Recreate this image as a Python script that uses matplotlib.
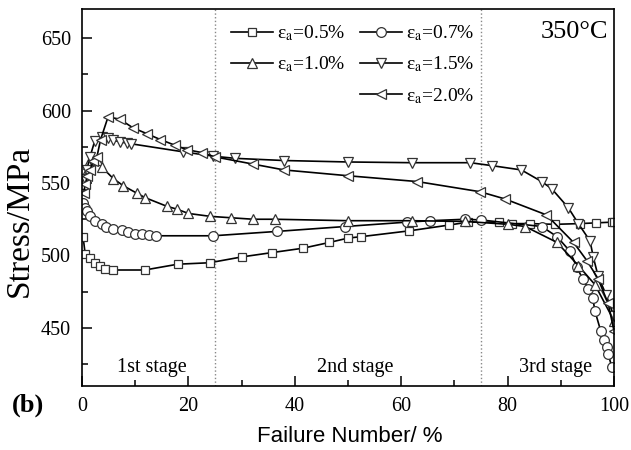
import matplotlib
matplotlib.use("Agg")
import matplotlib.pyplot as plt
from matplotlib.lines import Line2D
from matplotlib.ticker import MultipleLocator

plt.rcParams['font.family'] = ['Liberation Serif', 'DejaVu Serif']
plt.rcParams['mathtext.fontset'] = 'stix'

# ---- data (Failure Number %, Stress MPa) ----
x05 = [0.2, 0.6, 1.5, 2.4, 3.4, 4.3, 5.9, 11.8, 18.0, 24.0, 30.0, 35.7, 41.5, 46.5, 50.0, 52.5,
       61.5, 69.0, 72.5, 78.3, 80.8, 84.2, 88.9, 93.6, 96.6, 99.6, 100.0]
y05 = [513, 501, 498, 495, 493, 491, 490, 490, 494, 495, 499, 502, 505, 509, 512, 513,
       517, 521, 523, 523, 522, 522, 521.5, 522, 522.5, 523, 523]

x07 = [0.2, 0.6, 0.9, 1.5, 2.4, 3.7, 4.6, 5.9, 7.5, 8.7, 10.0, 11.2, 12.5, 13.9, 24.7, 36.6,
       49.5, 61.0, 65.5, 72.0, 75.0, 86.4, 89.3, 91.7, 93.0, 94.1, 95.2, 96.0, 96.4, 97.5,
       98.1, 98.6, 98.9, 99.6]
y07 = [536, 533, 531, 527, 524, 521.5, 520, 518.5, 517.3, 516, 515, 514.5, 514, 513.6, 513.6, 516.6,
       520, 523, 524, 525, 524.5, 520, 513, 503, 492, 484, 477, 471, 462, 448,
       442, 437, 432, 423]

x10 = [0.25, 0.8, 1.2, 2.8, 3.7, 5.9, 7.8, 10.3, 11.8, 15.9, 17.8, 20.0, 24.1, 28.1, 32.2, 36.3,
       50.0, 62.0, 72.0, 80.1, 83.3, 89.3, 93.3, 96.4, 100.0]
y10 = [549, 557, 563, 566, 561, 553, 548, 543, 540, 534, 532, 529, 527, 526, 525, 525,
       524, 524, 523.5, 521.5, 520, 509, 493, 480, 455]

x15 = [0.6, 0.9, 1.5, 2.4, 3.7, 4.9, 5.9, 7.1, 8.4, 9.3, 19.0, 24.7, 28.8, 38.0, 50.0, 62.0, 73.0,
       77.0, 82.6, 86.4, 88.3, 91.4, 93.3, 95.5, 96.1, 97.0, 98.5, 100.0]
y15 = [553, 559, 568, 579, 582, 581, 579.5, 578.5, 577.5, 577, 571.5, 568.5, 567, 565.5, 564.5, 564, 564,
       562, 559, 551, 546, 533, 522, 510, 499, 486, 473, 458]

x20 = [0.3, 0.6, 1.0, 1.5, 2.1, 2.8, 3.5, 4.9, 7.1, 9.6, 12.2, 14.7, 17.5, 19.7, 22.5, 25.0, 32.2,
       38.0, 50.0, 63.0, 74.8, 79.5, 87.3, 92.4, 94.9, 97.0, 98.9, 100.0]
y20 = [543, 549, 555, 559, 565, 568, 580, 595.6, 594, 588, 584, 580, 576, 573, 571, 568, 563,
       559, 555, 551, 544, 539, 528, 509, 496.5, 484, 467, 448]

stage_lines = [25, 75]
stage_labels = ["1st stage", "2nd stage", "3rd stage"]
stage_x = [13.2, 51.3, 89.0]

labels = ['ε$_{\\rm a}$=0.5%', 'ε$_{\\rm a}$=0.7%', 'ε$_{\\rm a}$=1.0%',
          'ε$_{\\rm a}$=1.5%', 'ε$_{\\rm a}$=2.0%']

fig = plt.figure(figsize=(6.31, 4.5), dpi=100)
ax = fig.add_axes([82/631, 1-386/450, (614-82)/631, (386-9)/450])

ec = '#333333'
common = dict(color='k', lw=1.2, mfc='white', mec=ec, mew=0.9)
h05, = ax.plot(x05, y05, marker='s', ms=6, label=labels[0], **common)
h07, = ax.plot(x07, y07, marker='o', ms=7, label=labels[1], **common)
h10, = ax.plot(x10, y10, marker='^', ms=7.5, label=labels[2], **common)
h15, = ax.plot(x15, y15, marker='v', ms=7.5, label=labels[3], **common)
h20, = ax.plot(x20, y20, marker='<', ms=7.5, label=labels[4], **common)

for xv in stage_lines:
    ax.axvline(xv, color='#888888', ls=':', lw=1.0, zorder=0)

for sx, sl in zip(stage_x, stage_labels):
    ax.text(sx, 422.5, sl, ha='center', va='center', fontsize=14.5)

ax.text(99, 654, '350°C', ha='right', va='center', fontsize=19)

blank = Line2D([], [], color='none')
leg = ax.legend([h05, h10, blank, h07, h15, h20],
                [labels[0], labels[2], '', labels[1], labels[3], labels[4]],
                ncol=2, loc='upper left', bbox_to_anchor=(0.281, 0.962), frameon=False,
                fontsize=14, handlelength=2.15, handletextpad=0.2, columnspacing=0.75,
                labelspacing=0.6, borderpad=0, borderaxespad=0)

ax.set_xlim(0, 100)
ax.set_ylim(410, 670)
ax.xaxis.set_major_locator(MultipleLocator(20))
ax.xaxis.set_minor_locator(MultipleLocator(10))
ax.yaxis.set_major_locator(MultipleLocator(50))
ax.yaxis.set_minor_locator(MultipleLocator(25))
ax.set_yticks([450, 500, 550, 600, 650])
ax.tick_params(which='both', direction='in', top=False, right=False, labelsize=14.5, width=1.1)
ax.tick_params(which='major', length=7, pad=8)
ax.tick_params(which='minor', length=4)
for s in ax.spines.values():
    s.set_linewidth(1.2)

fig.text(20/631, 1-221/450, 'Stress/MPa', fontsize=24, rotation=90, ha='center', va='center')
fig.text(350/631, 1-437/450, 'Failure Number/ %', fontsize=16, family='Liberation Sans',
         ha='center', va='center')
fig.text(28/631, 1-405/450, '(b)', fontsize=19, fontweight='bold', ha='center', va='center')

fig.savefig('out.png', dpi=100)
